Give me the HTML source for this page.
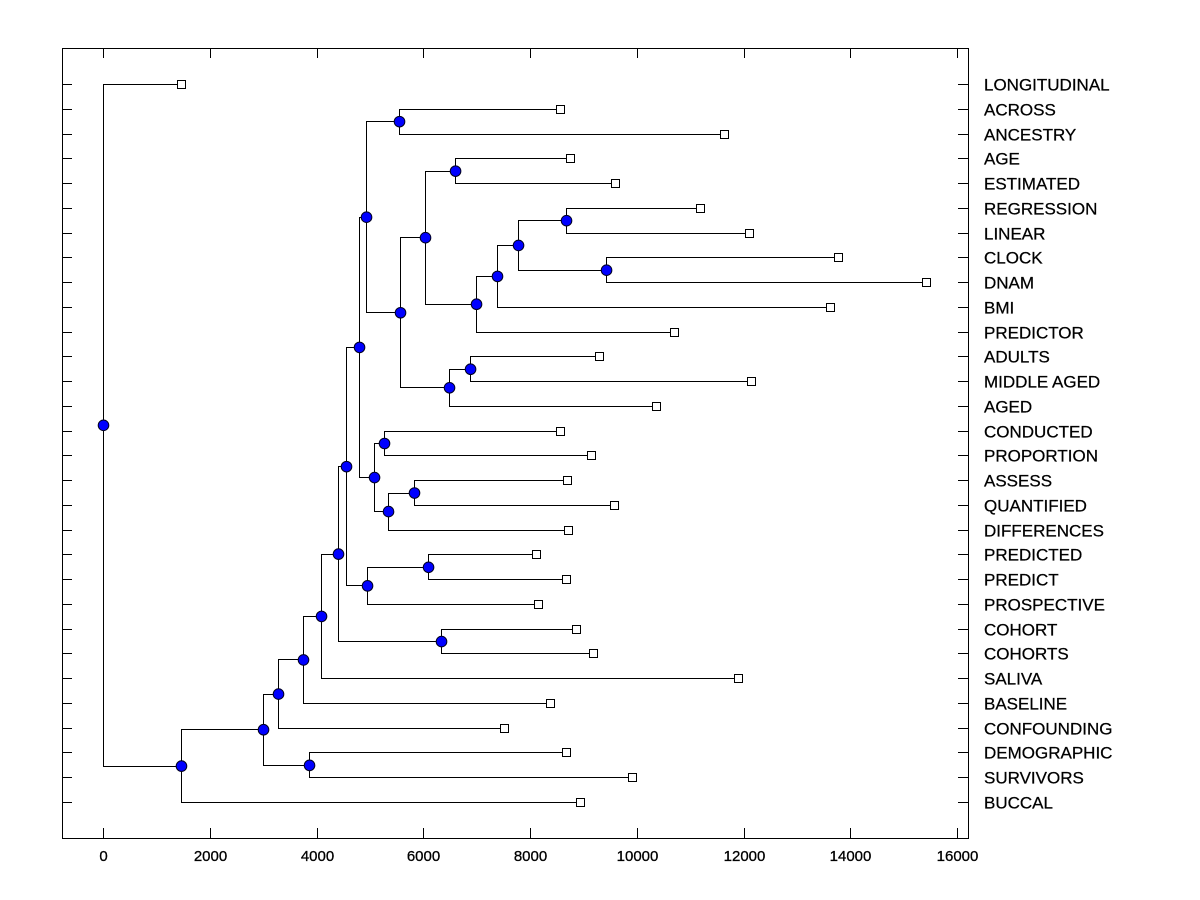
<!DOCTYPE html>
<html><head><meta charset="utf-8"><style>
html,body{margin:0;padding:0;background:#fff;}
svg{display:block;font-family:"Liberation Sans",Arial,sans-serif;}
</style></head><body>
<svg id="chart" width="1200" height="900"></svg>
<script>
const leafLabels=["LONGITUDINAL","ACROSS","ANCESTRY","AGE","ESTIMATED","REGRESSION","LINEAR","CLOCK","DNAM","BMI","PREDICTOR","ADULTS","MIDDLE AGED","AGED","CONDUCTED","PROPORTION","ASSESS","QUANTIFIED","DIFFERENCES","PREDICTED","PREDICT","PROSPECTIVE","COHORT","COHORTS","SALIVA","BASELINE","CONFOUNDING","DEMOGRAPHIC","SURVIVORS","BUCCAL"];
const leafValues=[1461,8563,11636,8750,9593,11186,12104,13772,15420,13622,10699,9293,12142,10362,8563,9144,8694,9575,8713,8113,8675,8150,8863,9181,11898,8375,7513,8675,9912,8938];
const nodeHeights=[0,1461,2998,3279,3860,3747,4085,4403,4553,6333,4797,4947,4928,5078,6090,5546,5565,5265,5340,6033,6483,5827,6596,6989,6877,7382,7776,8675,9425];
const nodeChildren=[["LONGITUDINAL",1],[2,"BUCCAL"],[3,4],[5,"CONFOUNDING"],["DEMOGRAPHIC","SURVIVORS"],[6,"BASELINE"],[7,"SALIVA"],[8,9],[10,11],["COHORT","COHORTS"],[12,13],[14,"PROSPECTIVE"],[15,16],[17,18],["PREDICTED","PREDICT"],["ACROSS","ANCESTRY"],[19,20],["CONDUCTED","PROPORTION"],[21,"DIFFERENCES"],[22,23],[24,"AGED"],["ASSESS","QUANTIFIED"],["AGE","ESTIMATED"],[25,"PREDICTOR"],["ADULTS","MIDDLE AGED"],[26,"BMI"],[27,28],["REGRESSION","LINEAR"],["CLOCK","DNAM"]];
const xTicks=[0,2000,4000,6000,8000,10000,12000,14000,16000];

const svg=document.getElementById('chart');
const NS='http://www.w3.org/2000/svg';
const L=62,R=968,T=48,B=838;
const xs=v=>103+v*(957-103)/16000;
const ys=i=>84+i*(802-84)/29;
function mk(tag,attrs,parent){const e=document.createElementNS(NS,tag);for(const k in attrs)e.setAttribute(k,attrs[k]);(parent||svg).appendChild(e);return e;}

const frame=mk('rect',{x:L+.5,y:T+.5,width:R-L,height:B-T,fill:'none',stroke:'#000','stroke-width':1});



leafLabels.forEach((lab,i)=>{
  const y=Math.round(ys(i))+.5;
  const t1=mk('line',{x1:L,y1:y,x2:L+10,y2:y,stroke:'#000'});
  
  
  const t2=mk('line',{x1:R-10,y1:y,x2:R,y2:y,stroke:'#000'});
  
  
  const tx=mk('text',{x:984,y:y+6,'font-size':17,fill:'#000','stroke':'#000','stroke-width':0.25});
  tx.textContent=lab;
  
  
});
xTicks.forEach(v=>{
  const x=Math.round(xs(v))+.5;
  const a=mk('line',{x1:x,y1:B,x2:x,y2:B-10,stroke:'#000'});
  
  
  const b=mk('line',{x1:x,y1:T,x2:x,y2:T+10,stroke:'#000'});
  
  
  const tx=mk('text',{x:x,y:861,'font-size':15,'text-anchor':'middle',fill:'#000','stroke':'#000','stroke-width':0.3});
  tx.textContent=String(v);
  
  
});

const nodeY=[];
function posOf(c){
  if(typeof c==='string'){const i=leafLabels.indexOf(c);return {x:xs(leafValues[i]),y:ys(i)};}
  return {x:xs(nodeHeights[c]),y:getY(c)};
}
function getY(n){
  if(nodeY[n]!==undefined)return nodeY[n];
  const a=posOf(nodeChildren[n][0]),b=posOf(nodeChildren[n][1]);
  nodeY[n]=(a.y+b.y)/2;return nodeY[n];
}
const gLines=mk('g',{stroke:'#000','stroke-width':1,fill:'none'});


nodeHeights.forEach((h,n)=>{
  const x=Math.round(xs(h))+.5;
  const a=posOf(nodeChildren[n][0]),b=posOf(nodeChildren[n][1]);
  const ya=Math.round(a.y)+.5,yb=Math.round(b.y)+.5;
  const p=mk('path',{d:`M${Math.round(a.x)+.5},${ya}H${x}V${yb}H${Math.round(b.x)+.5}`},gLines);
  
  
});
leafValues.forEach((v,i)=>{
  const r=mk('rect',{x:Math.round(xs(v))-3.5,y:Math.round(ys(i))-3.5,width:8,height:8,fill:'#fff',stroke:'#000'});
  
  
});
nodeHeights.forEach((h,n)=>{
  const c=mk('circle',{cx:xs(h)+.5,cy:getY(n)+.5,r:5.3,fill:'#0000ff',stroke:'#000020','stroke-width':1});
  
  
});
</script>
</body></html>
